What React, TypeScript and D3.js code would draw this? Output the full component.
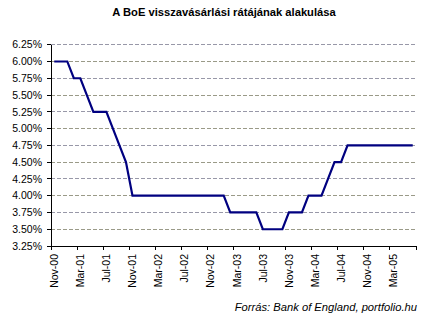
import * as d3 from "d3";

const width = 430;
const height = 324;
const margin = { top: 44.7, right: 14, bottom: 78, left: 51 };

// monthly categories, Nov-00 .. Jun-05
const months = [
  "Nov-00", "Dec-00", "Jan-01", "Feb-01", "Mar-01", "Apr-01", "May-01", "Jun-01",
  "Jul-01", "Aug-01", "Sep-01", "Oct-01", "Nov-01", "Dec-01", "Jan-02", "Feb-02",
  "Mar-02", "Apr-02", "May-02", "Jun-02", "Jul-02", "Aug-02", "Sep-02", "Oct-02",
  "Nov-02", "Dec-02", "Jan-03", "Feb-03", "Mar-03", "Apr-03", "May-03", "Jun-03",
  "Jul-03", "Aug-03", "Sep-03", "Oct-03", "Nov-03", "Dec-03", "Jan-04", "Feb-04",
  "Mar-04", "Apr-04", "May-04", "Jun-04", "Jul-04", "Aug-04", "Sep-04", "Oct-04",
  "Nov-04", "Dec-04", "Jan-05", "Feb-05", "Mar-05", "Apr-05", "May-05", "Jun-05",
];

// BoE repo rate, %
const rates = [
  6.0, 6.0, 6.0, 5.75, 5.75, 5.5, 5.25, 5.25,
  5.25, 5.0, 4.75, 4.5, 4.0, 4.0, 4.0, 4.0,
  4.0, 4.0, 4.0, 4.0, 4.0, 4.0, 4.0, 4.0,
  4.0, 4.0, 4.0, 3.75, 3.75, 3.75, 3.75, 3.75,
  3.5, 3.5, 3.5, 3.5, 3.75, 3.75, 3.75, 4.0,
  4.0, 4.0, 4.25, 4.5, 4.5, 4.75, 4.75, 4.75,
  4.75, 4.75, 4.75, 4.75, 4.75, 4.75, 4.75, 4.75,
];

const yTicks = [3.25, 3.5, 3.75, 4.0, 4.25, 4.5, 4.75, 5.0, 5.25, 5.5, 5.75, 6.0, 6.25];

const title = "A BoE visszavásárlási rátájának alakulása";
const source = "Forrás: Bank of England, portfolio.hu";

const font = "'Liberation Sans', Arial, sans-serif";

const App = () => {
  const x = d3
    .scaleBand<string>()
    .domain(months)
    .range([margin.left, width - margin.right])
    .padding(0);
  const y = d3
    .scaleLinear()
    .domain([3.25, 6.25])
    .range([height - margin.bottom, margin.top]);

  const cx = (m: string) => (x(m) as number) + x.bandwidth() / 2;

  const line = d3
    .line<number>()
    .x((_, i) => cx(months[i]))
    .y((d) => y(d));

  const x0 = margin.left;
  const x1 = width - margin.right;
  const yBase = y(3.25);

  // tick marks at every 4th category boundary
  const tickIdx = d3.range(0, months.length + 1, 4);

  return (
    <div style={{ position: "absolute", left: 0, top: 0 }}>
      <svg width={width} height={height} style={{ display: "block", background: "#fff" }}>
        <text
          x={224}
          y={16}
          textAnchor="middle"
          fontFamily={font}
          fontSize={11.2}
          fontWeight="bold"
          fill="#000"
        >
          {title}
        </text>

        {/* gridlines */}
        {yTicks.slice(1).map((t, i) => (
          <line
            key={t}
            x1={x0}
            x2={x1}
            y1={y(t)}
            y2={y(t)}
            stroke={i % 2 === 0 ? "#9a9a88" : "#9898a8"}
            strokeDasharray="4,2"
            strokeWidth={1}
            shapeRendering="crispEdges"
          />
        ))}

        {/* y axis */}
        <line x1={x0} x2={x0} y1={margin.top} y2={yBase + 4} stroke="#000" shapeRendering="crispEdges" />
        {yTicks.map((t) => (
          <g key={t}>
            <line x1={x0 - 4} x2={x0} y1={y(t)} y2={y(t)} stroke="#000" shapeRendering="crispEdges" />
            <text
              x={42}
              y={y(t)}
              dy="0.36em"
              textAnchor="end"
              fontFamily={font}
              fontSize={10.5}
              fill="#000"
            >
              {t.toFixed(2) + "%"}
            </text>
          </g>
        ))}

        {/* x axis */}
        <line x1={x0} x2={x1} y1={yBase} y2={yBase} stroke="#000" shapeRendering="crispEdges" />
        {tickIdx.map((i) => {
          const px = i < months.length ? (x(months[i]) as number) : x1;
          return (
            <line key={i} x1={px} x2={px} y1={yBase} y2={yBase + 4} stroke="#000" shapeRendering="crispEdges" />
          );
        })}
        {months.map((m, i) =>
          i % 4 === 0 ? (
            <text
              key={m}
              transform={`translate(${cx(m)},${yBase + 8}) rotate(-90)`}
              dy="0.36em"
              textAnchor="end"
              fontFamily={font}
              fontSize={10.5}
              fill="#000"
            >
              {m}
            </text>
          ) : null
        )}

        <path d={line(rates) ?? ""} fill="none" stroke="#000080" strokeWidth={2.2} strokeLinejoin="miter" />

        <text
          x={417}
          y={311}
          textAnchor="end"
          fontFamily={font}
          fontSize={11.2}
          fontStyle="italic"
          fill="#000"
        >
          {source}
        </text>
      </svg>
    </div>
  );
};

export default App;
